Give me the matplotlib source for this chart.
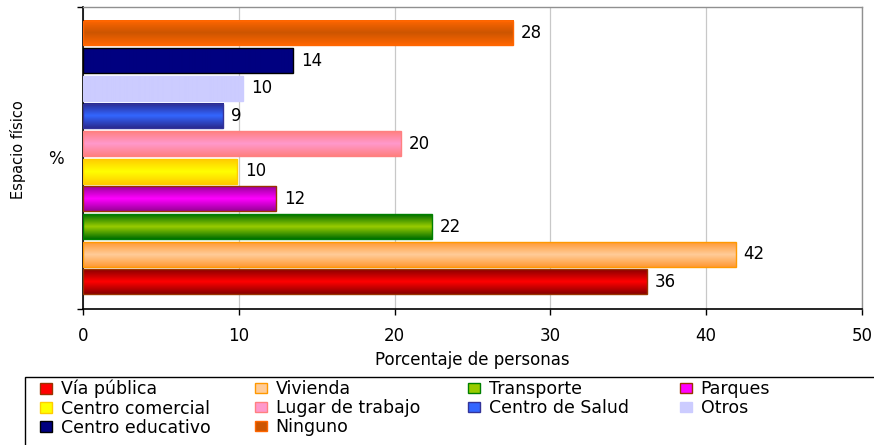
import numpy as np
import matplotlib.pyplot as plt
import matplotlib.patches as mpatches
from matplotlib.colors import LinearSegmentedColormap

# datos
categorias = ['Vía pública', 'Vivienda', 'Transporte', 'Parques', 'Centro comercial',
              'Lugar de trabajo', 'Centro de Salud', 'Otros', 'Centro educativo', 'Ninguno']
porcentajes = [36.2, 41.9, 22.4, 12.4, 9.9, 20.4, 9.0, 10.3, 13.5, 27.6]
etiquetas = [36, 42, 22, 12, 10, 20, 9, 10, 14, 28]
grupo = '%'

# colores estilo Excel: borde, exterior del degradado, centro del degradado
bordes = ['#993300', '#FF9900', '#008000', '#993300', '#FFCC00',
          '#FF8080', '#333399', '#CCCCFF', '#000000', '#FF6600']
exterior = ['#880000', '#FF9933', '#006E00', '#990099', '#FFCC00',
            '#FF8080', '#2A2A90', '#CCCCFF', '#000080', '#FF6600']
centro = ['#FF0000', '#FFCC99', '#99CC00', '#FF00FF', '#FFFF00',
          '#FF99CC', '#3366FF', '#CCCCFF', '#000080', '#CC5500']

plt.rcParams['font.family'] = ['DejaVu Sans']

fig = plt.figure(figsize=(8.74, 4.45), dpi=100)
ax = fig.add_axes([83 / 874, 1 - 309 / 445, (862 - 83) / 874, (309 - 7) / 445])

pos = np.arange(len(categorias))
alto = 0.9

bars = ax.barh(pos, porcentajes, height=alto, facecolor='none', edgecolor=bordes,
               linewidth=1.0, zorder=3)

grad = np.linspace(0, 1, 100).reshape(-1, 1)
for b, o, c in zip(bars, exterior, centro):
    cmap = LinearSegmentedColormap.from_list('g', [o, c, o])
    x0, y0, w, h = b.get_x(), b.get_y(), b.get_width(), b.get_height()
    ax.imshow(grad, cmap=cmap, extent=[x0, x0 + w, y0, y0 + h], aspect='auto',
              interpolation='bilinear', zorder=2)

for p, v, lab in zip(pos, porcentajes, etiquetas):
    ax.text(v + 0.5, p, str(lab), va='center', ha='left', fontsize=12, zorder=4)

ax.set_xlim(0, 50)
ax.set_ylim(-0.98, 9.94)

ax.set_axisbelow(True)
ax.set_xticks(range(0, 51, 10))
ax.xaxis.grid(True, color='#C8C8C8', linewidth=0.9)
ax.tick_params(axis='x', direction='out', length=4, width=1, labelsize=12, pad=9)

ax.set_yticks([-0.98, 9.94], labels=['', ''])
ax.tick_params(axis='y', which='major', direction='out', length=4, width=1)
ax.set_yticks([4.5], labels=[grupo], minor=True)
ax.tick_params(axis='y', which='minor', length=0, pad=14, labelsize=12)

for s in ['left', 'bottom']:
    ax.spines[s].set_color('black')
    ax.spines[s].set_linewidth(1.2)
for s in ['top', 'right']:
    ax.spines[s].set_color('#909090')
    ax.spines[s].set_linewidth(1.0)

ax.set_xlabel('Porcentaje de personas', fontsize=12, labelpad=4)
fig.text(18 / 874, 1 - 150 / 445, 'Espacio físico', rotation=90, ha='center', va='center',
         fontsize=10.5)

# leyenda: el recuadro se sale de la figura por la derecha y por abajo
fig.patches.append(mpatches.Rectangle((25 / 874, -0.1), 1.0, 1 - 377 / 445 + 0.1,
                                      transform=fig.transFigure, fill=False,
                                      edgecolor='black', linewidth=1.0))
handles = [mpatches.Patch(facecolor=c, edgecolor=e, linewidth=1.0) for c, e in zip(centro, bordes)]
columnas = [[0, 4, 8], [1, 5, 9], [2, 6], [3, 7]]
x_col = [40, 255, 468, 680]
for col, x in zip(columnas, x_col):
    fig.legend([handles[i] for i in col], [categorias[i] for i in col],
               loc='upper left', bbox_to_anchor=(x / 874, 1 - 380 / 445), ncol=1,
               frameon=False, fontsize=12.5, handlelength=0.69, handleheight=0.57,
               handletextpad=0.5, labelspacing=0.06, borderpad=0, borderaxespad=0)

fig.savefig('out.png', dpi=100)
